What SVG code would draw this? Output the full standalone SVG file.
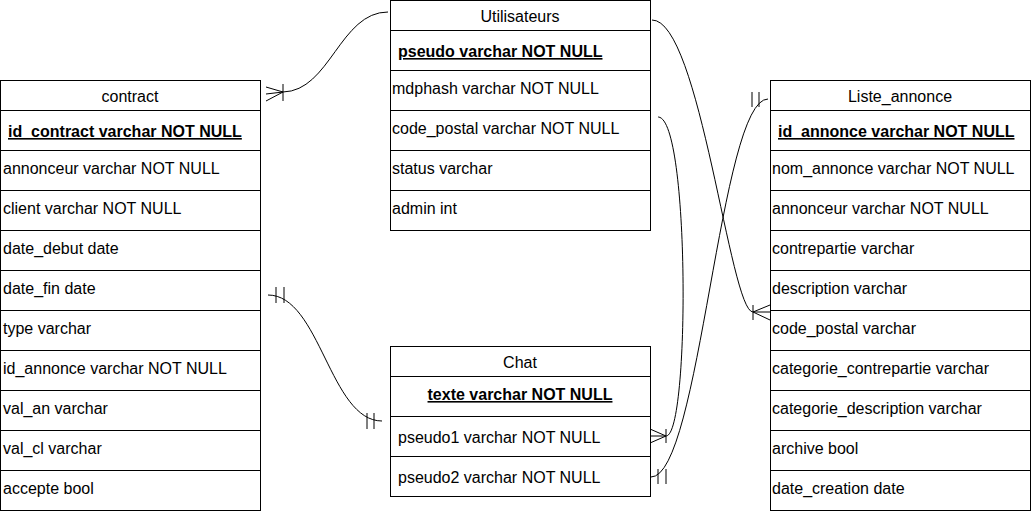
<svg xmlns="http://www.w3.org/2000/svg" width="1031" height="511" viewBox="0 0 1031 511">
<style>
.box{fill:#fff;stroke:#000;stroke-width:1}
.sep{stroke:#000;stroke-width:1}
.t{font-family:"Liberation Sans",Arial,sans-serif;font-size:16px;fill:#000}
.c{text-anchor:middle}
.k{font-weight:bold;text-decoration:underline}
.e{fill:none;stroke:#000;stroke-width:1}
</style>
<rect width="1031" height="511" fill="#fff"/>
<g id="contract">
<rect class="box" x="0.5" y="80.5" width="260" height="430"/>
<path class="sep" d="M0.5 110.5H260.5M0.5 150.5H260.5M0.5 190.5H260.5M0.5 230.5H260.5M0.5 270.5H260.5M0.5 310.5H260.5M0.5 350.5H260.5M0.5 390.5H260.5M0.5 430.5H260.5M0.5 470.5H260.5"/>
<text class="t c" x="130" y="101.5">contract</text>
<text class="t k" x="8" y="137">id_contract varchar NOT NULL</text>
<text class="t" x="3" y="173.5">annonceur varchar NOT NULL</text>
<text class="t" x="3" y="213.5">client varchar NOT NULL</text>
<text class="t" x="3" y="253.5">date_debut date</text>
<text class="t" x="3" y="293.5">date_fin date</text>
<text class="t" x="3" y="333.5">type varchar</text>
<text class="t" x="3" y="373.5">id_annonce varchar NOT NULL</text>
<text class="t" x="3" y="413.5">val_an varchar</text>
<text class="t" x="3" y="453.5">val_cl varchar</text>
<text class="t" x="3" y="493.5">accepte bool</text>
</g>
<g id="utilisateurs">
<rect class="box" x="390.5" y="0.5" width="260" height="230"/>
<path class="sep" d="M390.5 30.5H650.5M390.5 70.5H650.5M390.5 110.5H650.5M390.5 150.5H650.5M390.5 190.5H650.5"/>
<text class="t c" x="520" y="21.5">Utilisateurs</text>
<text class="t k" x="398" y="57">pseudo varchar NOT NULL</text>
<text class="t" x="392" y="93.5">mdphash varchar NOT NULL</text>
<text class="t" x="392" y="133.5">code_postal varchar NOT NULL</text>
<text class="t" x="392" y="173.5">status varchar</text>
<text class="t" x="392" y="213.5">admin int</text>
</g>
<g id="chat">
<rect class="box" x="390.5" y="346.5" width="260" height="150"/>
<path class="sep" d="M390.5 376.5H650.5M390.5 416.5H650.5M390.5 456.5H650.5"/>
<text class="t c" x="520" y="367.5">Chat</text>
<text class="t k c" x="520" y="400">texte varchar NOT NULL</text>
<text class="t" x="398" y="442.5">pseudo1 varchar NOT NULL</text>
<text class="t" x="398" y="482.5">pseudo2 varchar NOT NULL</text>
</g>
<g id="liste_annonce">
<rect class="box" x="770.5" y="80.5" width="260" height="430"/>
<path class="sep" d="M770.5 110.5H1030.5M770.5 150.5H1030.5M770.5 190.5H1030.5M770.5 230.5H1030.5M770.5 270.5H1030.5M770.5 310.5H1030.5M770.5 350.5H1030.5M770.5 390.5H1030.5M770.5 430.5H1030.5M770.5 470.5H1030.5"/>
<text class="t c" x="900" y="101.5">Liste_annonce</text>
<text class="t k" x="778" y="137">id_annonce varchar NOT NULL</text>
<text class="t" x="772" y="173.5">nom_annonce varchar NOT NULL</text>
<text class="t" x="772" y="213.5">annonceur varchar NOT NULL</text>
<text class="t" x="772" y="253.5">contrepartie varchar</text>
<text class="t" x="772" y="293.5">description varchar</text>
<text class="t" x="772" y="333.5">code_postal varchar</text>
<text class="t" x="772" y="373.5">categorie_contrepartie varchar</text>
<text class="t" x="772" y="413.5">categorie_description varchar</text>
<text class="t" x="772" y="453.5">archive bool</text>
<text class="t" x="772" y="493.5">date_creation date</text>
</g>
<g id="connectors">
<!-- Utilisateurs -> contract (one to many) -->
<path class="e" d="M388 12C340 12 330 91 283 92L266 94"/>
<path class="e" d="M266 87L283 92L266 101M283 84V101"/>
<!-- contract.date_fin -> Chat (one and only one) -->
<path class="e" d="M268 295C320 295 330 421 382 421"/>
<path class="e" d="M276 287V303M284 287V303M367 413V429M374 413V429"/>
<!-- Utilisateurs.code_postal -> Chat.pseudo1 -->
<path class="e" d="M658 117C690 117 690 436 666 436L650 436"/>
<path class="e" d="M650 429L666 436L650 443M666 429V443"/>
<!-- Chat.pseudo2 -> Liste_annonce -->
<path class="e" d="M651 477C700 477 720 99 768 99"/>
<path class="e" d="M658 469V484M666 469V484M752 92V107M759 92V107"/>
<!-- Utilisateurs.pseudo -> Liste_annonce.code_postal -->
<path class="e" d="M652 20C700 20 730 312 753 312L770 312"/>
<path class="e" d="M770 305L753 312L770 320M753 305V320"/>
</g>
</svg>
